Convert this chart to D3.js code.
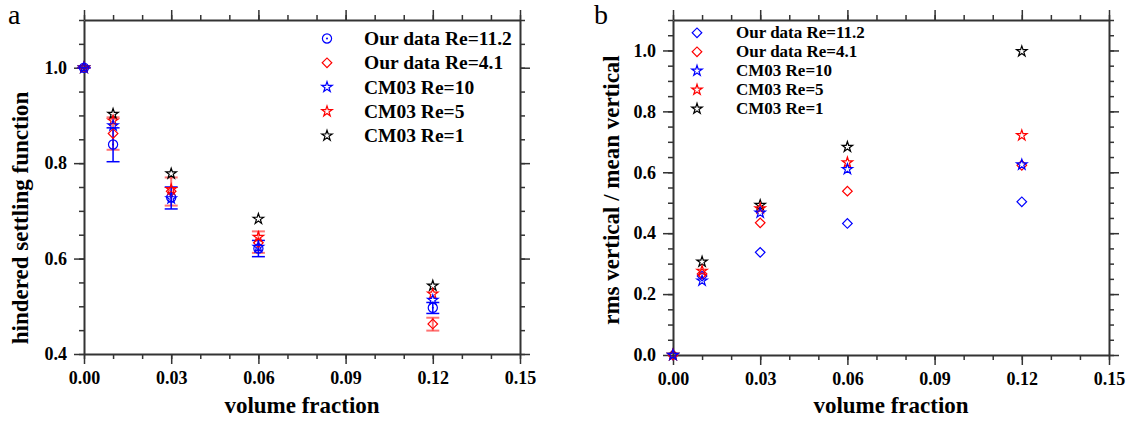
<!DOCTYPE html>
<html>
<head>
<meta charset="utf-8">
<script src="https://cdn.jsdelivr.net/npm/d3@7"></script>
<style>
  body { margin: 0; background: #fff; }
  svg text { font-family: "Liberation Serif", "Times New Roman", serif; }
</style>
</head>
<body>
<svg id="chart" width="1137" height="422"></svg>
<script>
// shared x values (volume fraction)
const phi = [0, 0.01, 0.03, 0.06, 0.12];
const xTicks = [0, 0.03, 0.06, 0.09, 0.12, 0.15];

// panel a: hindered settling function
const aOur112 = [1.0, 0.839, 0.728, 0.621, 0.497];
const aOur112Lo = [1.0, 0.803, 0.704, 0.604, 0.485];
const aOur112Hi = [1.0, 0.874, 0.750, 0.638, 0.508];
const aOur41 = [1.0, 0.862, 0.741, 0.633, 0.463];
const aOur41Lo = [1.0, 0.828, 0.711, 0.612, 0.449];
const aOur41Hi = [1.0, 0.896, 0.770, 0.657, 0.476];
const aCm10 = [1.0, 0.879, 0.726, 0.624, 0.513];
const aCm5 = [1.0, 0.889, 0.745, 0.645, 0.526];
const aCm1 = [1.0, 0.903, 0.778, 0.683, 0.543];
const aYTicks = [0.4, 0.6, 0.8, 1.0];

// panel b: rms vertical / mean vertical
const bOur112 = [0, 0.259, 0.337, 0.432, 0.503];
const bOur41 = [0, 0.266, 0.434, 0.538, 0.623];
const bCm10 = [0, 0.244, 0.467, 0.610, 0.625];
const bCm5 = [0, 0.276, 0.481, 0.632, 0.721];
const bCm1 = [0, 0.306, 0.492, 0.683, 0.997];
const bYTicks = [0.0, 0.2, 0.4, 0.6, 0.8, 1.0];

const legendNames = ["Our data Re=11.2", "Our data Re=4.1", "CM03 Re=10", "CM03 Re=5", "CM03 Re=1"];

const svg = d3.select("#chart");
const AXIS = "#333";

const starSym = d3.symbol().type(d3.symbolStar).size(34);
const circSym = d3.symbol().type(d3.symbolCircle).size(66);
const diamSym = d3.symbol().type(d3.symbolSquare).size(46);

function drawMarker(g, kind, color, x, y) {
  if (kind === "star") {
    g.append("path").attr("d", starSym()).attr("transform", `translate(${x},${y})`)
      .attr("fill", "none").attr("stroke", color).attr("stroke-width", 1.2);
  } else if (kind === "circle") {
    g.append("path").attr("d", circSym()).attr("transform", `translate(${x},${y})`)
      .attr("fill", "none").attr("stroke", color).attr("stroke-width", 1.2);
    g.append("circle").attr("cx", x).attr("cy", y).attr("r", 1).attr("fill", color);
  } else {
    g.append("path").attr("d", diamSym()).attr("transform", `translate(${x},${y}) rotate(45)`)
      .attr("fill", "none").attr("stroke", color).attr("stroke-width", 1.2);
  }
}

function drawPanel(p) {
  const x = d3.scaleLinear().domain([0, 0.15]).range([p.left, p.right]);
  const y = d3.scaleLinear().domain(p.yDomain).range([p.bottom, p.top]);
  const g = svg.append("g");

  const xMinor = d3.range(0, 0.1501, 0.01);
  const yMinor = d3.range(p.yDomain[0], p.yDomain[1] + 0.001, 0.05);

  const axes = [
    [d3.axisBottom(x), `translate(0,${p.bottom})`, xTicks, xMinor, true],
    [d3.axisTop(x), `translate(0,${p.top})`, xTicks, xMinor, false],
    [d3.axisLeft(y), `translate(${p.left},0)`, p.yTicks, yMinor, true],
    [d3.axisRight(y), `translate(${p.right},0)`, p.yTicks, yMinor, false]
  ];
  axes.forEach(([ax, tr, major, minor, labels], i) => {
    const fmt = i < 2 ? d3.format(".2f") : d3.format(".1f");
    g.append("g").attr("transform", tr)
      .call(ax.tickValues(minor).tickSize(5).tickSizeOuter(0).tickFormat(""))
      .call(s => s.selectAll("line").attr("stroke", AXIS).attr("stroke-width", 1.5))
      .call(s => s.select(".domain").attr("stroke", AXIS).attr("stroke-width", 2));
    g.append("g").attr("transform", tr)
      .call(ax.tickValues(major).tickSize(10).tickSizeOuter(0).tickPadding(7)
        .tickFormat(labels ? fmt : ""))
      .call(s => s.select(".domain").remove())
      .call(s => s.selectAll("line").attr("stroke", AXIS).attr("stroke-width", 1.5))
      .call(s => s.selectAll("text").attr("fill", "#000")
        .style("font-size", "18px").style("font-weight", "bold")
        .style("font-family", '"Liberation Serif", serif'));
  });

  // axis titles
  g.append("text").attr("x", (p.left + p.right) / 2).attr("y", 413)
    .attr("text-anchor", "middle").style("font-size", "23px").style("font-weight", "bold")
    .text("volume fraction");
  g.append("text").attr("transform", `translate(${p.yTitleX},${p.yTitleY}) rotate(-90)`)
    .attr("text-anchor", "middle").style("font-size", "23px").style("font-weight", "bold")
    .text(p.yTitle);
  g.append("text").attr("x", p.labelX).attr("y", 24)
    .style("font-size", "28px").text(p.label);

  // error bars
  (p.errors || []).forEach(e => {
    const eg = g.append("g").attr("stroke", e.color).attr("stroke-width", e.width)
      .attr("stroke-opacity", e.opacity);
    phi.forEach((v, i) => {
      const cx = x(v);
      eg.append("line").attr("x1", cx).attr("x2", cx).attr("y1", y(e.lo[i])).attr("y2", y(e.hi[i]));
      [e.lo[i], e.hi[i]].forEach(b => {
        eg.append("line").attr("x1", cx - 6.5).attr("x2", cx + 6.5).attr("y1", y(b)).attr("y2", y(b));
      });
    });
  });

  // markers
  const mg = g.append("g");
  p.series.forEach(s => {
    phi.forEach((v, i) => drawMarker(mg, s.kind, s.color, x(v), y(s.values[i])));
  });

  // legend
  const lg = g.append("g");
  p.legendOrder.forEach((s, i) => {
    const ly = p.legY + i * p.legStep;
    drawMarker(lg, s.kind, s.color, p.legMarkX, ly);
    lg.append("text").attr("x", p.legTextX).attr("y", ly + p.legFont / 3)
      .style("font-size", p.legFont + "px").style("font-weight", "bold").text(legendNames[i]);
  });
}

const aSeries = {
  our112: { kind: "circle", color: "#0000ff", values: aOur112 },
  our41: { kind: "diamond", color: "#ff0000", values: aOur41 },
  cm10: { kind: "star", color: "#0000ff", values: aCm10 },
  cm5: { kind: "star", color: "#ff0000", values: aCm5 },
  cm1: { kind: "star", color: "#000000", values: aCm1 }
};
drawPanel({
  left: 84, right: 520, top: 20, bottom: 354,
  yDomain: [0.4, 1.1], yTicks: aYTicks,
  yTitle: "hindered settling function", yTitleX: 28, yTitleY: 218,
  label: "a", labelX: 8,
  errors: [
    { color: "#ff0000", width: 2, opacity: 0.55, lo: aOur41Lo, hi: aOur41Hi },
    { color: "#0000ff", width: 1.5, opacity: 1, lo: aOur112Lo, hi: aOur112Hi }
  ],
  series: [aSeries.our41, aSeries.our112, aSeries.cm1, aSeries.cm5, aSeries.cm10],
  legendOrder: [aSeries.our112, aSeries.our41, aSeries.cm10, aSeries.cm5, aSeries.cm1],
  legY: 38.5, legStep: 24.3, legMarkX: 327, legTextX: 364, legFont: 19.5
});

const bSeries = {
  our112: { kind: "diamond", color: "#0000ff", values: bOur112 },
  our41: { kind: "diamond", color: "#ff0000", values: bOur41 },
  cm10: { kind: "star", color: "#0000ff", values: bCm10 },
  cm5: { kind: "star", color: "#ff0000", values: bCm5 },
  cm1: { kind: "star", color: "#000000", values: bCm1 }
};
drawPanel({
  left: 673, right: 1109, top: 20, bottom: 355,
  yDomain: [0, 1.1], yTicks: bYTicks,
  yTitle: "rms vertical / mean vertical", yTitleX: 619, yTitleY: 190,
  label: "b", labelX: 594,
  series: [bSeries.our112, bSeries.our41, bSeries.cm1, bSeries.cm5, bSeries.cm10],
  legendOrder: [bSeries.our112, bSeries.our41, bSeries.cm10, bSeries.cm5, bSeries.cm1],
  legY: 32.8, legStep: 19, legMarkX: 697, legTextX: 736, legFont: 17
});
</script>
</body>
</html>
